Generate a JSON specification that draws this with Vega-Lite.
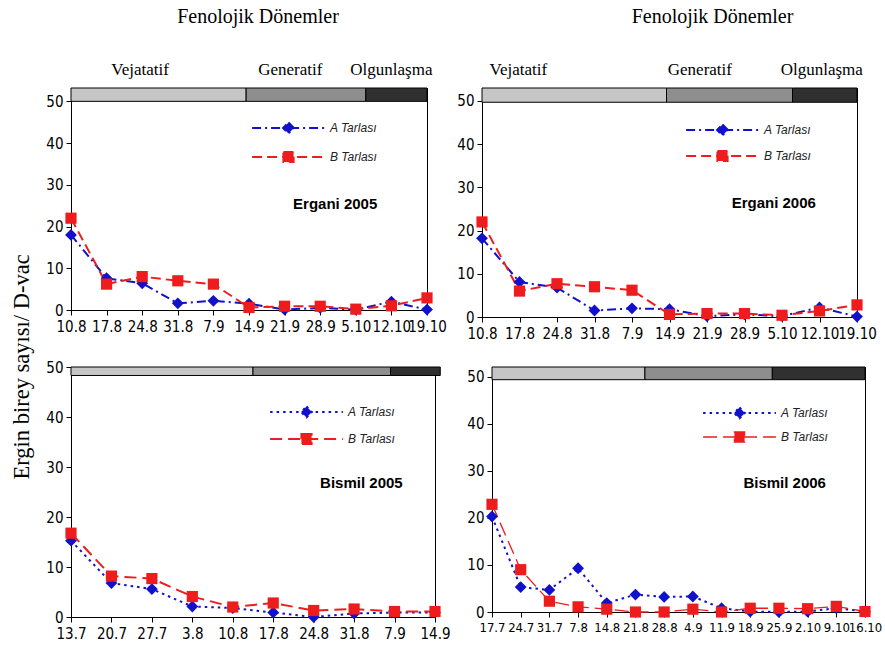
{
  "$schema": "https://vega.github.io/schema/vega-lite/v6.json",
  "padding": {"left": 10, "top": 6, "right": 0, "bottom": 0},
  "background": "white",
  "title": {"text": "Ergin birey sayısı/ D-vac", "orient": "left", "anchor": "middle", "font": "Liberation Serif", "fontSize": 22.5, "fontWeight": "normal", "color": "black", "offset": 12, "dx": -43},
  "config": {
    "view": {"stroke": "black", "strokeWidth": 1},
    "axis": {"labelFont": "Liberation Sans Narrow, DejaVu Sans Condensed, Liberation Sans", "labelFontSize": 15, "labelColor": "black", "domainColor": "black", "tickColor": "black", "tickSize": 5, "grid": false, "title": null},
    "axisX": {"labelAngle": 0, "labelOverlap": false, "labelPadding": 4},
    "axisY": {"labelPadding": 3},
    "legend": {"title": null, "orient": "none", "clipHeight": 14, "padding": 0, "labelFont": "Liberation Sans", "labelFontStyle": "italic", "labelFontSize": 12, "labelColor": "#222222", "labelOffset": 4, "symbolSize": 5300, "symbolStrokeWidth": 2}
  },
  "datasets": {
    "counts": [
      {"p": "Ergani 2005", "d": "10.8", "t": "A Tarlası", "v": 18},
      {"p": "Ergani 2005", "d": "17.8", "t": "A Tarlası", "v": 7.6},
      {"p": "Ergani 2005", "d": "24.8", "t": "A Tarlası", "v": 6.4},
      {"p": "Ergani 2005", "d": "31.8", "t": "A Tarlası", "v": 1.6},
      {"p": "Ergani 2005", "d": "7.9", "t": "A Tarlası", "v": 2.2},
      {"p": "Ergani 2005", "d": "14.9", "t": "A Tarlası", "v": 1.5},
      {"p": "Ergani 2005", "d": "21.9", "t": "A Tarlası", "v": 0.1},
      {"p": "Ergani 2005", "d": "28.9", "t": "A Tarlası", "v": 0.5},
      {"p": "Ergani 2005", "d": "5.10", "t": "A Tarlası", "v": 0.1},
      {"p": "Ergani 2005", "d": "12.10", "t": "A Tarlası", "v": 2.0},
      {"p": "Ergani 2005", "d": "19.10", "t": "A Tarlası", "v": 0.1},
      {"p": "Ergani 2005", "d": "10.8", "t": "B Tarlası", "v": 22},
      {"p": "Ergani 2005", "d": "17.8", "t": "B Tarlası", "v": 6.2},
      {"p": "Ergani 2005", "d": "24.8", "t": "B Tarlası", "v": 8.0},
      {"p": "Ergani 2005", "d": "31.8", "t": "B Tarlası", "v": 7.0},
      {"p": "Ergani 2005", "d": "7.9", "t": "B Tarlası", "v": 6.2},
      {"p": "Ergani 2005", "d": "14.9", "t": "B Tarlası", "v": 0.6},
      {"p": "Ergani 2005", "d": "21.9", "t": "B Tarlası", "v": 0.9},
      {"p": "Ergani 2005", "d": "28.9", "t": "B Tarlası", "v": 0.9},
      {"p": "Ergani 2005", "d": "5.10", "t": "B Tarlası", "v": 0.2},
      {"p": "Ergani 2005", "d": "12.10", "t": "B Tarlası", "v": 1.0},
      {"p": "Ergani 2005", "d": "19.10", "t": "B Tarlası", "v": 2.9},
      {"p": "Ergani 2006", "d": "10.8", "t": "A Tarlası", "v": 18.2},
      {"p": "Ergani 2006", "d": "17.8", "t": "A Tarlası", "v": 8.1},
      {"p": "Ergani 2006", "d": "24.8", "t": "A Tarlası", "v": 6.8},
      {"p": "Ergani 2006", "d": "31.8", "t": "A Tarlası", "v": 1.5},
      {"p": "Ergani 2006", "d": "7.9", "t": "A Tarlası", "v": 2.0},
      {"p": "Ergani 2006", "d": "14.9", "t": "A Tarlası", "v": 1.8},
      {"p": "Ergani 2006", "d": "21.9", "t": "A Tarlası", "v": 0.2},
      {"p": "Ergani 2006", "d": "28.9", "t": "A Tarlası", "v": 0.6},
      {"p": "Ergani 2006", "d": "5.10", "t": "A Tarlası", "v": 0.2},
      {"p": "Ergani 2006", "d": "12.10", "t": "A Tarlası", "v": 2.2},
      {"p": "Ergani 2006", "d": "19.10", "t": "A Tarlası", "v": 0.1},
      {"p": "Ergani 2006", "d": "10.8", "t": "B Tarlası", "v": 22},
      {"p": "Ergani 2006", "d": "17.8", "t": "B Tarlası", "v": 6.0},
      {"p": "Ergani 2006", "d": "24.8", "t": "B Tarlası", "v": 7.7},
      {"p": "Ergani 2006", "d": "31.8", "t": "B Tarlası", "v": 7.0},
      {"p": "Ergani 2006", "d": "7.9", "t": "B Tarlası", "v": 6.2},
      {"p": "Ergani 2006", "d": "14.9", "t": "B Tarlası", "v": 0.6},
      {"p": "Ergani 2006", "d": "21.9", "t": "B Tarlası", "v": 0.8},
      {"p": "Ergani 2006", "d": "28.9", "t": "B Tarlası", "v": 0.8},
      {"p": "Ergani 2006", "d": "5.10", "t": "B Tarlası", "v": 0.4},
      {"p": "Ergani 2006", "d": "12.10", "t": "B Tarlası", "v": 1.4},
      {"p": "Ergani 2006", "d": "19.10", "t": "B Tarlası", "v": 2.8},
      {"p": "Bismil 2005", "d": "13.7", "t": "A Tarlası", "v": 15.3},
      {"p": "Bismil 2005", "d": "20.7", "t": "A Tarlası", "v": 6.8},
      {"p": "Bismil 2005", "d": "27.7", "t": "A Tarlası", "v": 5.6},
      {"p": "Bismil 2005", "d": "3.8", "t": "A Tarlası", "v": 2.1},
      {"p": "Bismil 2005", "d": "10.8", "t": "A Tarlası", "v": 1.8},
      {"p": "Bismil 2005", "d": "17.8", "t": "A Tarlası", "v": 0.9},
      {"p": "Bismil 2005", "d": "24.8", "t": "A Tarlası", "v": 0},
      {"p": "Bismil 2005", "d": "31.8", "t": "A Tarlası", "v": 0.7},
      {"p": "Bismil 2005", "d": "7.9", "t": "A Tarlası", "v": 0.9},
      {"p": "Bismil 2005", "d": "14.9", "t": "A Tarlası", "v": 0.9},
      {"p": "Bismil 2005", "d": "13.7", "t": "B Tarlası", "v": 16.8},
      {"p": "Bismil 2005", "d": "20.7", "t": "B Tarlası", "v": 8.2},
      {"p": "Bismil 2005", "d": "27.7", "t": "B Tarlası", "v": 7.7},
      {"p": "Bismil 2005", "d": "3.8", "t": "B Tarlası", "v": 4.1},
      {"p": "Bismil 2005", "d": "10.8", "t": "B Tarlası", "v": 2.0},
      {"p": "Bismil 2005", "d": "17.8", "t": "B Tarlası", "v": 2.8},
      {"p": "Bismil 2005", "d": "24.8", "t": "B Tarlası", "v": 1.3},
      {"p": "Bismil 2005", "d": "31.8", "t": "B Tarlası", "v": 1.6},
      {"p": "Bismil 2005", "d": "7.9", "t": "B Tarlası", "v": 1.1},
      {"p": "Bismil 2005", "d": "14.9", "t": "B Tarlası", "v": 1.1},
      {"p": "Bismil 2006", "d": "17.7", "t": "A Tarlası", "v": 20.3},
      {"p": "Bismil 2006", "d": "24.7", "t": "A Tarlası", "v": 5.3},
      {"p": "Bismil 2006", "d": "31.7", "t": "A Tarlası", "v": 4.7},
      {"p": "Bismil 2006", "d": "7.8", "t": "A Tarlası", "v": 9.3},
      {"p": "Bismil 2006", "d": "14.8", "t": "A Tarlası", "v": 1.9},
      {"p": "Bismil 2006", "d": "21.8", "t": "A Tarlası", "v": 3.7},
      {"p": "Bismil 2006", "d": "28.8", "t": "A Tarlası", "v": 3.2},
      {"p": "Bismil 2006", "d": "4.9", "t": "A Tarlası", "v": 3.3},
      {"p": "Bismil 2006", "d": "11.9", "t": "A Tarlası", "v": 0.8},
      {"p": "Bismil 2006", "d": "18.9", "t": "A Tarlası", "v": 0.1},
      {"p": "Bismil 2006", "d": "25.9", "t": "A Tarlası", "v": 0},
      {"p": "Bismil 2006", "d": "2.10", "t": "A Tarlası", "v": 0.1},
      {"p": "Bismil 2006", "d": "9.10", "t": "A Tarlası", "v": 0.8},
      {"p": "Bismil 2006", "d": "16.10", "t": "A Tarlası", "v": 0.1},
      {"p": "Bismil 2006", "d": "17.7", "t": "B Tarlası", "v": 22.9},
      {"p": "Bismil 2006", "d": "24.7", "t": "B Tarlası", "v": 9.0},
      {"p": "Bismil 2006", "d": "31.7", "t": "B Tarlası", "v": 2.3},
      {"p": "Bismil 2006", "d": "7.8", "t": "B Tarlası", "v": 1.1},
      {"p": "Bismil 2006", "d": "14.8", "t": "B Tarlası", "v": 0.6},
      {"p": "Bismil 2006", "d": "21.8", "t": "B Tarlası", "v": 0},
      {"p": "Bismil 2006", "d": "28.8", "t": "B Tarlası", "v": 0},
      {"p": "Bismil 2006", "d": "4.9", "t": "B Tarlası", "v": 0.6},
      {"p": "Bismil 2006", "d": "11.9", "t": "B Tarlası", "v": 0},
      {"p": "Bismil 2006", "d": "18.9", "t": "B Tarlası", "v": 0.8},
      {"p": "Bismil 2006", "d": "25.9", "t": "B Tarlası", "v": 0.8},
      {"p": "Bismil 2006", "d": "2.10", "t": "B Tarlası", "v": 0.7},
      {"p": "Bismil 2006", "d": "9.10", "t": "B Tarlası", "v": 1.2},
      {"p": "Bismil 2006", "d": "16.10", "t": "B Tarlası", "v": 0.1}
    ],
    "phases": [
      {"p": "Ergani 2005", "ph": "Vejatatif", "s": 0, "e": 4.92, "lx": 1.94},
      {"p": "Ergani 2005", "ph": "Generatif", "s": 4.92, "e": 8.28, "lx": 6.16},
      {"p": "Ergani 2005", "ph": "Olgunlaşma", "s": 8.28, "e": 10, "lx": 9.0},
      {"p": "Ergani 2006", "ph": "Vejatatif", "s": 0, "e": 4.92, "lx": 0.97},
      {"p": "Ergani 2006", "ph": "Generatif", "s": 4.92, "e": 8.28, "lx": 5.81},
      {"p": "Ergani 2006", "ph": "Olgunlaşma", "s": 8.28, "e": 10, "lx": 9.06},
      {"p": "Bismil 2005", "ph": "Vejatatif", "s": 0, "e": 4.5, "lx": 2},
      {"p": "Bismil 2005", "ph": "Generatif", "s": 4.5, "e": 7.9, "lx": 6},
      {"p": "Bismil 2005", "ph": "Olgunlaşma", "s": 7.9, "e": 9.13, "lx": 8.5},
      {"p": "Bismil 2006", "ph": "Vejatatif", "s": 0, "e": 5.33, "lx": 2.5},
      {"p": "Bismil 2006", "ph": "Generatif", "s": 5.33, "e": 9.77, "lx": 7.5},
      {"p": "Bismil 2006", "ph": "Olgunlaşma", "s": 9.77, "e": 13, "lx": 11.4}
    ],
    "panels": [
      {"p": "Ergani 2005"},
      {"p": "Ergani 2006"},
      {"p": "Bismil 2005"},
      {"p": "Bismil 2006"}
    ]
  },
  "vconcat": [
    {
      "hconcat": [
        {
          "width": 356, "height": 222,
          "title": {"text": "Fenolojik Dönemler", "font": "Liberation Serif", "fontSize": 20, "fontWeight": "normal", "color": "black", "offset": 34, "dx": 9},
          "layer": [
            {
              "layer": [
                {
                  "data": {"name": "phases"},
                  "transform": [{"filter": "datum.p === 'Ergani 2005'"}],
                  "mark": {"type": "rect", "stroke": "black", "strokeWidth": 1},
                  "encoding": {
                    "x": {"field": "s", "type": "quantitative", "scale": {"domain": [0, 10], "nice": false, "zero": false}, "axis": null},
                    "x2": {"field": "e"},
                    "y": {"datum": 50, "type": "quantitative", "scale": {"domain": [0, 53.2], "nice": false}},
                    "y2": {"datum": 53.2},
                    "fill": {"field": "ph", "type": "nominal", "scale": {"domain": ["Vejatatif", "Generatif", "Olgunlaşma"], "range": ["#c6c6c6", "#8e8e8e", "#303030"]}, "legend": null}
                  }
                },
                {
                  "data": {"name": "phases"},
                  "transform": [{"filter": "datum.p === 'Ergani 2005'"}],
                  "mark": {"type": "text", "font": "Liberation Serif", "fontSize": 17, "baseline": "middle", "color": "black"},
                  "encoding": {
                    "x": {"field": "lx", "type": "quantitative"},
                    "y": {"datum": 57.4, "type": "quantitative"},
                    "text": {"field": "ph"}
                  }
                },
                {
                  "data": {"name": "panels"},
                  "transform": [{"filter": "datum.p === 'Ergani 2005'"}],
                  "mark": {"type": "text", "font": "Liberation Sans", "fontSize": 15, "fontWeight": "bold", "baseline": "middle", "color": "black"},
                  "encoding": {
                    "x": {"datum": 7.42, "type": "quantitative"},
                    "y": {"datum": 25.5, "type": "quantitative"},
                    "text": {"field": "p"}
                  }
                }
              ]
            },
            {
              "data": {"name": "counts"},
              "transform": [{"filter": "datum.p === 'Ergani 2005'"}],
              "encoding": {
                "x": {"field": "d", "type": "ordinal", "sort": null, "scale": {"type": "point", "padding": 0}, "axis": {"orient": "bottom"}},
                "y": {"field": "v", "type": "quantitative", "scale": {"domain": [0, 53.2], "nice": false}, "axis": {"values": [0, 10, 20, 30, 40, 50]}},
                "color": {"field": "t", "type": "nominal", "scale": {"domain": ["A Tarlası", "B Tarlası"], "range": ["#1111cc", "#ee1c1c"]},
                  "legend": {"legendX": 180, "legendY": 33, "rowPadding": 15,
                    "encode": {"symbols": {"update": {
                      "shape": {"signal": "datum.value === 'A Tarlası' ? 'M-1,0H1M0,-0.15L0.15,0L0,0.15L-0.15,0Z' : 'M-1,0H1M-0.14,-0.14H0.14V0.14H-0.14Z'"},
                      "fill": {"signal": "datum.value === 'A Tarlası' ? '#1111cc' : '#ee1c1c'"},
                      "stroke": {"signal": "datum.value === 'A Tarlası' ? '#1111cc' : '#ee1c1c'"},
                      "strokeDash": {"signal": "datum.value === 'A Tarlası' ? [9, 4, 2, 4] : [10, 5]"},
                      "strokeWidth": {"value": 2}, "size": {"value": 5300}, "opacity": {"value": 1}}}}}}
              },
              "layer": [
                {"mark": {"type": "line", "strokeWidth": 2},
                 "encoding": {"strokeDash": {"field": "t", "type": "nominal", "scale": {"domain": ["A Tarlası", "B Tarlası"], "range": [[9, 4, 2, 4], [10, 5]]}, "legend": null}}},
                {"transform": [{"filter": "datum.t === 'A Tarlası'"}], "mark": {"type": "point", "shape": "diamond", "filled": true, "opacity": 1, "size": 140}},
                {"transform": [{"filter": "datum.t === 'B Tarlası'"}], "mark": {"type": "point", "shape": "square", "filled": true, "opacity": 1, "size": 125}}
              ]
            }
          ],
          "resolve": {"scale": {"x": "independent"}}
        },
        {
          "width": 375, "height": 229,
          "title": {"text": "Fenolojik Dönemler", "font": "Liberation Serif", "fontSize": 20, "fontWeight": "normal", "color": "black", "offset": 34, "dx": 43},
          "layer": [
            {
              "layer": [
                {
                  "data": {"name": "phases"},
                  "transform": [{"filter": "datum.p === 'Ergani 2006'"}],
                  "mark": {"type": "rect", "stroke": "black", "strokeWidth": 1},
                  "encoding": {
                    "x": {"field": "s", "type": "quantitative", "scale": {"domain": [0, 10], "nice": false, "zero": false}, "axis": null},
                    "x2": {"field": "e"},
                    "y": {"datum": 49.7, "type": "quantitative", "scale": {"domain": [0, 53], "nice": false}},
                    "y2": {"datum": 53},
                    "fill": {"field": "ph", "type": "nominal", "scale": {"domain": ["Vejatatif", "Generatif", "Olgunlaşma"], "range": ["#c6c6c6", "#8e8e8e", "#303030"]}, "legend": null}
                  }
                },
                {
                  "data": {"name": "phases"},
                  "transform": [{"filter": "datum.p === 'Ergani 2006'"}],
                  "mark": {"type": "text", "font": "Liberation Serif", "fontSize": 17, "baseline": "middle", "color": "black"},
                  "encoding": {
                    "x": {"field": "lx", "type": "quantitative"},
                    "y": {"datum": 57.2, "type": "quantitative"},
                    "text": {"field": "ph"}
                  }
                },
                {
                  "data": {"name": "panels"},
                  "transform": [{"filter": "datum.p === 'Ergani 2006'"}],
                  "mark": {"type": "text", "font": "Liberation Sans", "fontSize": 15, "fontWeight": "bold", "baseline": "middle", "color": "black"},
                  "encoding": {
                    "x": {"datum": 7.78, "type": "quantitative"},
                    "y": {"datum": 26.4, "type": "quantitative"},
                    "text": {"field": "p"}
                  }
                }
              ]
            },
            {
              "data": {"name": "counts"},
              "transform": [{"filter": "datum.p === 'Ergani 2006'"}],
              "encoding": {
                "x": {"field": "d", "type": "ordinal", "sort": null, "scale": {"type": "point", "padding": 0}, "axis": {"orient": "bottom"}},
                "y": {"field": "v", "type": "quantitative", "scale": {"domain": [0, 53], "nice": false}, "axis": {"values": [0, 10, 20, 30, 40, 50]}},
                "color": {"field": "t", "type": "nominal", "scale": {"domain": ["A Tarlası", "B Tarlası"], "range": ["#1111cc", "#ee1c1c"]},
                  "legend": {"legendX": 203, "legendY": 35, "rowPadding": 12,
                    "encode": {"symbols": {"update": {
                      "shape": {"signal": "datum.value === 'A Tarlası' ? 'M-1,0H1M0,-0.15L0.15,0L0,0.15L-0.15,0Z' : 'M-1,0H1M-0.14,-0.14H0.14V0.14H-0.14Z'"},
                      "fill": {"signal": "datum.value === 'A Tarlası' ? '#1111cc' : '#ee1c1c'"},
                      "stroke": {"signal": "datum.value === 'A Tarlası' ? '#1111cc' : '#ee1c1c'"},
                      "strokeDash": {"signal": "datum.value === 'A Tarlası' ? [9, 4, 2, 4] : [10, 5]"},
                      "strokeWidth": {"value": 2}, "size": {"value": 5300}, "opacity": {"value": 1}}}}}}
              },
              "layer": [
                {"mark": {"type": "line", "strokeWidth": 2},
                 "encoding": {"strokeDash": {"field": "t", "type": "nominal", "scale": {"domain": ["A Tarlası", "B Tarlası"], "range": [[9, 4, 2, 4], [10, 5]]}, "legend": null}}},
                {"transform": [{"filter": "datum.t === 'A Tarlası'"}], "mark": {"type": "point", "shape": "diamond", "filled": true, "opacity": 1, "size": 140}},
                {"transform": [{"filter": "datum.t === 'B Tarlası'"}], "mark": {"type": "point", "shape": "square", "filled": true, "opacity": 1, "size": 125}}
              ]
            }
          ],
          "resolve": {"scale": {"x": "independent"}}
        }
      ],
      "spacing": 55,
      "bounds": "flush",
      "resolve": {"scale": {"color": "independent", "strokeDash": "independent", "strokeWidth": "independent"}, "legend": {"color": "independent"}}
    },
    {
      "hconcat": [
        {
          "width": 364, "height": 250,
          "layer": [
            {
              "layer": [
                {
                  "data": {"name": "phases"},
                  "transform": [{"filter": "datum.p === 'Bismil 2005'"}],
                  "mark": {"type": "rect", "stroke": "black", "strokeWidth": 1},
                  "encoding": {
                    "x": {"field": "s", "type": "quantitative", "scale": {"domain": [0, 9], "nice": false, "zero": false}, "axis": null},
                    "x2": {"field": "e"},
                    "y": {"datum": 48.4, "type": "quantitative", "scale": {"domain": [0, 50.1], "nice": false}},
                    "y2": {"datum": 50.1},
                    "fill": {"field": "ph", "type": "nominal", "scale": {"domain": ["Vejatatif", "Generatif", "Olgunlaşma"], "range": ["#c6c6c6", "#8e8e8e", "#303030"]}, "legend": null}
                  }
                },
                {
                  "data": {"name": "panels"},
                  "transform": [{"filter": "datum.p === 'Bismil 2005'"}],
                  "mark": {"type": "text", "font": "Liberation Sans", "fontSize": 15, "fontWeight": "bold", "baseline": "middle", "color": "black"},
                  "encoding": {
                    "x": {"datum": 7.18, "type": "quantitative"},
                    "y": {"datum": 26.8, "type": "quantitative"},
                    "text": {"field": "p"}
                  }
                }
              ]
            },
            {
              "data": {"name": "counts"},
              "transform": [{"filter": "datum.p === 'Bismil 2005'"}],
              "encoding": {
                "x": {"field": "d", "type": "ordinal", "sort": null, "scale": {"type": "point", "padding": 0}, "axis": {"orient": "bottom"}},
                "y": {"field": "v", "type": "quantitative", "scale": {"domain": [0, 50.1], "nice": false}, "axis": {"values": [0, 10, 20, 30, 40, 50]}},
                "color": {"field": "t", "type": "nominal", "scale": {"domain": ["A Tarlası", "B Tarlası"], "range": ["#1111cc", "#ee1c1c"]},
                  "legend": {"legendX": 198, "legendY": 38, "rowPadding": 13,
                    "encode": {"symbols": {"update": {
                      "shape": {"signal": "datum.value === 'A Tarlası' ? 'M-1,0H1M0,-0.15L0.15,0L0,0.15L-0.15,0Z' : 'M-1,0H1M-0.14,-0.14H0.14V0.14H-0.14Z'"},
                      "fill": {"signal": "datum.value === 'A Tarlası' ? '#1111cc' : '#ee1c1c'"},
                      "stroke": {"signal": "datum.value === 'A Tarlası' ? '#1111cc' : '#ee1c1c'"},
                      "strokeDash": {"signal": "datum.value === 'A Tarlası' ? [2.5, 4] : [12, 6]"},
                      "strokeWidth": {"value": 2}, "size": {"value": 5300}, "opacity": {"value": 1}}}}}}
              },
              "layer": [
                {"mark": {"type": "line", "strokeWidth": 2},
                 "encoding": {"strokeDash": {"field": "t", "type": "nominal", "scale": {"domain": ["A Tarlası", "B Tarlası"], "range": [[2.5, 4], [12, 6]]}, "legend": null}}},
                {"transform": [{"filter": "datum.t === 'A Tarlası'"}], "mark": {"type": "point", "shape": "diamond", "filled": true, "opacity": 1, "size": 140}},
                {"transform": [{"filter": "datum.t === 'B Tarlası'"}], "mark": {"type": "point", "shape": "square", "filled": true, "opacity": 1, "size": 125}}
              ]
            }
          ],
          "resolve": {"scale": {"x": "independent"}}
        },
        {
          "width": 373, "height": 245,
          "layer": [
            {
              "layer": [
                {
                  "data": {"name": "phases"},
                  "transform": [{"filter": "datum.p === 'Bismil 2006'"}],
                  "mark": {"type": "rect", "stroke": "black", "strokeWidth": 1},
                  "encoding": {
                    "x": {"field": "s", "type": "quantitative", "scale": {"domain": [0, 13], "nice": false, "zero": false}, "axis": null},
                    "x2": {"field": "e"},
                    "y": {"datum": 49.4, "type": "quantitative", "scale": {"domain": [0, 52.1], "nice": false}},
                    "y2": {"datum": 52.1},
                    "fill": {"field": "ph", "type": "nominal", "scale": {"domain": ["Vejatatif", "Generatif", "Olgunlaşma"], "range": ["#c6c6c6", "#8e8e8e", "#303030"]}, "legend": null}
                  }
                },
                {
                  "data": {"name": "panels"},
                  "transform": [{"filter": "datum.p === 'Bismil 2006'"}],
                  "mark": {"type": "text", "font": "Liberation Sans", "fontSize": 15, "fontWeight": "bold", "baseline": "middle", "color": "black"},
                  "encoding": {
                    "x": {"datum": 10.2, "type": "quantitative"},
                    "y": {"datum": 27.5, "type": "quantitative"},
                    "text": {"field": "p"}
                  }
                }
              ]
            },
            {
              "data": {"name": "counts"},
              "transform": [{"filter": "datum.p === 'Bismil 2006'"}],
              "encoding": {
                "x": {"field": "d", "type": "ordinal", "sort": null, "scale": {"type": "point", "padding": 0}, "axis": {"orient": "bottom", "labelFontSize": 13}},
                "y": {"field": "v", "type": "quantitative", "scale": {"domain": [0, 52.1], "nice": false}, "axis": {"values": [0, 10, 20, 30, 40, 50]}},
                "color": {"field": "t", "type": "nominal", "scale": {"domain": ["A Tarlası", "B Tarlası"], "range": ["#1111cc", "#ee1c1c"]},
                  "legend": {"legendX": 210, "legendY": 39, "rowPadding": 10,
                    "encode": {"symbols": {"update": {
                      "shape": {"signal": "datum.value === 'A Tarlası' ? 'M-1,0H1M0,-0.15L0.15,0L0,0.15L-0.15,0Z' : 'M-1,0H1M-0.14,-0.14H0.14V0.14H-0.14Z'"},
                      "fill": {"signal": "datum.value === 'A Tarlası' ? '#1111cc' : '#ee1c1c'"},
                      "stroke": {"signal": "datum.value === 'A Tarlası' ? '#1111cc' : '#ee1c1c'"},
                      "strokeDash": {"signal": "datum.value === 'A Tarlası' ? [2.5, 4] : [14, 6]"},
                      "strokeWidth": {"signal": "datum.value === 'A Tarlası' ? 2 : 1.3"}, "size": {"value": 5300}, "opacity": {"value": 1}}}}}}
              },
              "layer": [
                {"mark": {"type": "line"},
                 "encoding": {
                   "strokeDash": {"field": "t", "type": "nominal", "scale": {"domain": ["A Tarlası", "B Tarlası"], "range": [[2.5, 4], [14, 6]]}, "legend": null},
                   "strokeWidth": {"field": "t", "type": "nominal", "scale": {"domain": ["A Tarlası", "B Tarlası"], "range": [2, 1.3]}, "legend": null}}},
                {"transform": [{"filter": "datum.t === 'A Tarlası'"}], "mark": {"type": "point", "shape": "diamond", "filled": true, "opacity": 1, "size": 140}},
                {"transform": [{"filter": "datum.t === 'B Tarlası'"}], "mark": {"type": "point", "shape": "square", "filled": true, "opacity": 1, "size": 125}}
              ]
            }
          ],
          "resolve": {"scale": {"x": "independent"}}
        }
      ],
      "spacing": 57,
      "bounds": "flush",
      "resolve": {"scale": {"color": "independent", "strokeDash": "independent", "strokeWidth": "independent"}, "legend": {"color": "independent"}}
    }
  ],
  "spacing": 17,
  "resolve": {"scale": {"color": "independent", "strokeDash": "independent", "strokeWidth": "independent"}, "legend": {"color": "independent"}}
}
